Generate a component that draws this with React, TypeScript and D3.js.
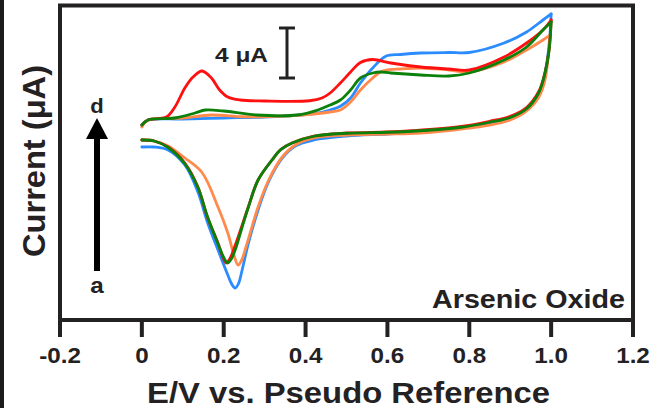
import React from 'react';
import * as d3 from 'd3';

// ---- data (E in V vs pseudo reference, current in µA) ----
const xTicks = [-0.2, 0, 0.2, 0.4, 0.6, 0.8, 1.0, 1.2];
const xTickLabels = ['-0.2', '0', '0.2', '0.4', '0.6', '0.8', '1.0', '1.2'];

const redForward: [number, number][] = [
  [0, 0.6], [0.015, 1.0], [0.06, 1.24], [0.08, 2.0], [0.105, 3.56], [0.125, 4.44], [0.147, 4.92],
  [0.17, 4.36], [0.19, 3.4], [0.21, 2.84], [0.24, 2.6], [0.3, 2.52], [0.41, 2.54], [0.44, 2.76],
  [0.46, 3.16], [0.485, 3.96], [0.51, 4.84], [0.534, 5.6], [0.564, 5.84], [0.608, 5.56], [0.681, 5.24],
  [0.75, 5.08], [0.8, 5.0], [0.885, 6.04], [0.94, 7.16], [0.98, 8.2], [1.0, 9.0],
];
const redReverse: [number, number][] = [
  [0, -0.6], [0.03, -0.68], [0.064, -1.16], [0.105, -2.44], [0.137, -4.36], [0.16, -6.76], [0.186, -8.84],
  [0.197, -9.9], [0.206, -10.44], [0.215, -10.1], [0.225, -9.3], [0.24, -7.9], [0.26, -5.96], [0.284, -3.8],
  [0.318, -2.2], [0.34, -1.35], [0.367, -0.84], [0.42, -0.28], [0.5, -0.04], [0.6, 0.04], [0.66, 0.14],
  [0.78, 0.48], [0.85, 0.9], [0.9, 1.3], [0.94, 2.0], [0.97, 3.3], [0.985, 4.8], [0.995, 6.6], [1.0, 9.0],
];

const blueForward: [number, number][] = [
  [0, 0.6], [0.015, 1.0], [0.1, 1.08], [0.2, 1.16], [0.3, 1.24], [0.387, 1.4], [0.43, 1.55], [0.46, 1.8],
  [0.485, 2.1], [0.51, 2.76], [0.534, 3.96], [0.564, 5.16], [0.596, 6.1], [0.632, 6.24], [0.681, 6.36],
  [0.75, 6.4], [0.8, 6.4], [0.885, 7.16], [0.94, 8.04], [0.98, 9.0], [1.0, 9.48],
];
const blueReverse: [number, number][] = [
  [0, -1.16], [0.03, -1.16], [0.064, -1.4], [0.105, -2.6], [0.137, -4.76], [0.16, -7.16], [0.186, -9.4],
  [0.21, -11.4], [0.22, -12.15], [0.228, -12.44], [0.236, -12.1], [0.245, -11.0], [0.26, -8.9],
  [0.284, -6.2], [0.31, -3.9], [0.343, -2.04], [0.375, -1.08], [0.42, -0.6], [0.5, -0.28], [0.6, -0.12],
  [0.68, 0.04], [0.78, 0.36], [0.85, 0.76], [0.9, 1.16], [0.94, 1.88], [0.97, 3.16], [0.985, 4.76],
  [0.995, 7.0], [1.0, 9.48],
];

const orangeForward: [number, number][] = [
  [0, 0.44], [0.015, 1.0], [0.1, 1.16], [0.17, 1.4], [0.25, 1.26], [0.35, 1.32], [0.42, 1.48], [0.46, 1.64],
  [0.485, 1.8], [0.51, 2.44], [0.534, 3.4], [0.564, 4.36], [0.583, 4.84], [0.6, 5.0], [0.632, 5.08],
  [0.681, 5.16], [0.75, 5.0], [0.8, 4.84], [0.885, 5.64], [0.94, 6.6], [0.98, 7.4], [0.997, 7.8],
];
const orangeReverse: [number, number][] = [
  [0, -0.6], [0.03, -0.68], [0.064, -1.08], [0.105, -2.04], [0.147, -3.2], [0.186, -5.96], [0.21, -8.04],
  [0.225, -9.8], [0.235, -10.6], [0.244, -10.2], [0.254, -9.2], [0.266, -7.9], [0.284, -5.96], [0.31, -3.8],
  [0.343, -1.96], [0.375, -1.0], [0.42, -0.44], [0.5, -0.2], [0.6, -0.12], [0.68, -0.04], [0.78, 0.28],
  [0.85, 0.6], [0.9, 1.0], [0.94, 1.72], [0.97, 2.84], [0.985, 4.2], [0.997, 7.8],
];

const greenForward: [number, number][] = [
  [0, 0.6], [0.015, 1.0], [0.08, 1.16], [0.13, 1.56], [0.155, 1.8], [0.2, 1.72], [0.28, 1.4], [0.38, 1.4],
  [0.43, 1.8], [0.46, 2.2], [0.485, 2.6], [0.51, 3.4], [0.534, 4.36], [0.564, 4.76], [0.583, 4.84],
  [0.608, 4.76], [0.681, 4.6], [0.75, 4.52], [0.8, 4.76], [0.885, 5.8], [0.94, 6.84], [0.98, 8.2], [1.0, 8.84],
];
const greenReverse: [number, number][] = [
  [0, -0.6], [0.03, -0.68], [0.064, -1.2], [0.105, -2.5], [0.137, -4.4], [0.16, -6.7], [0.186, -8.9],
  [0.2, -10.0], [0.21, -10.44], [0.219, -10.1], [0.229, -9.3], [0.242, -7.9], [0.26, -6.0], [0.284, -3.8],
  [0.318, -2.2], [0.34, -1.35], [0.367, -0.84], [0.42, -0.3], [0.5, -0.06], [0.6, 0.02], [0.66, 0.1],
  [0.78, 0.42], [0.85, 0.82], [0.9, 1.2], [0.94, 1.9], [0.97, 3.2], [0.985, 4.76], [0.995, 6.6], [1.0, 8.84],
];

const seriesColors = ['#2a8cff', '#ff8a4c', '#ff1010', '#0b800b'];
const seriesData = [
  [blueForward, blueReverse],
  [orangeForward, orangeReverse],
  [redForward, redReverse],
  [greenForward, greenReverse],
];

const scaleBarMicroAmp = 4;

// ---- layout ----
const W = 659;
const H = 408;
const plotLeft = 60;
const plotRight = 633;
const plotTop = 5.5;
const plotBottom = 320;
const ink = '#242122';
const font = '"Liberation Sans", Arial, Helvetica, sans-serif';

export default function App() {
  const x = d3.scaleLinear().domain([-0.2, 1.2]).range([plotLeft, plotRight]);
  const y = d3.scaleLinear().domain([-15, 10.2]).range([plotBottom, plotBottom - 25.2 * 12.5]);
  const line = d3
    .line<[number, number]>()
    .x((d) => x(d[0]))
    .y((d) => y(d[1]))
    .curve(d3.curveCatmullRom.alpha(0.5));

  const sbX = 287;
  const sbTop = 28;
  const sbBottom = sbTop + (y(0) - y(scaleBarMicroAmp));

  return (
    <svg
      width={W}
      height={H}
      style={{ position: 'absolute', left: 0, top: 0, background: '#fff' }}
      fontFamily={font}
    >
      <rect x={0} y={0} width={W} height={H} fill="#fff" />
      <rect x={0} y={0} width={4} height={H} fill="#1c1c1c" />

      {/* curves */}
      <g fill="none" strokeWidth={2.8} strokeLinejoin="round" strokeLinecap="round">
        {seriesData.map((branches, i) =>
          branches.map((b, j) => (
            <path key={`${i}-${j}`} d={line(b) || ''} stroke={seriesColors[i]} />
          ))
        )}
      </g>

      {/* frame */}
      <rect
        x={plotLeft}
        y={plotTop}
        width={plotRight - plotLeft}
        height={plotBottom - plotTop}
        fill="none"
        stroke={ink}
        strokeWidth={4}
      />

      {/* x ticks */}
      {xTicks.map((t, i) => (
        <g key={t}>
          <line x1={x(t)} x2={x(t)} y1={plotBottom} y2={337} stroke={ink} strokeWidth={4} />
          <text
            transform={`translate(${x(t)},363) scale(1.1,1)`}
            textAnchor="middle"
            fontSize={22}
            fontWeight="bold"
            fill={ink}
          >
            {xTickLabels[i]}
          </text>
        </g>
      ))}

      {/* axis titles */}
      <text
        x={147}
        y={403}
        fontSize={29}
        fontWeight="bold"
        fill={ink}
        textLength={403}
        lengthAdjust="spacingAndGlyphs"
      >
        E/V vs. Pseudo Reference
      </text>
      <text
        transform="translate(45,161) rotate(-90)"
        textAnchor="middle"
        fontSize={31}
        fontWeight="bold"
        fill={ink}
        textLength={192}
        lengthAdjust="spacingAndGlyphs"
      >
        Current (μA)
      </text>

      {/* label */}
      <text
        x={432}
        y={308}
        fontSize={25}
        fontWeight="bold"
        fill={ink}
        textLength={193}
        lengthAdjust="spacingAndGlyphs"
      >
        Arsenic Oxide
      </text>

      {/* scale bar */}
      <text
        x={215}
        y={62}
        fontSize={21}
        fontWeight="bold"
        fill={ink}
        textLength={53}
        lengthAdjust="spacingAndGlyphs"
      >
        4 μA
      </text>
      <g stroke={ink} strokeWidth={3}>
        <line x1={sbX} x2={sbX} y1={sbTop} y2={sbBottom} />
        <line x1={sbX - 8} x2={sbX + 8} y1={sbTop} y2={sbTop} />
        <line x1={sbX - 8} x2={sbX + 8} y1={sbBottom} y2={sbBottom} />
      </g>

      {/* arrow a -> d */}
      <rect x={94} y={136} width={6} height={135} fill="#000" />
      <polygon points="97,118 86,139 108,139" fill="#000" />
      <text transform="translate(97,113) scale(1.1,1)" textAnchor="middle" fontSize={20} fontWeight="bold" fill={ink}>
        d
      </text>
      <text transform="translate(97,293) scale(1.1,1)" textAnchor="middle" fontSize={22} fontWeight="bold" fill={ink}>
        a
      </text>
    </svg>
  );
}
